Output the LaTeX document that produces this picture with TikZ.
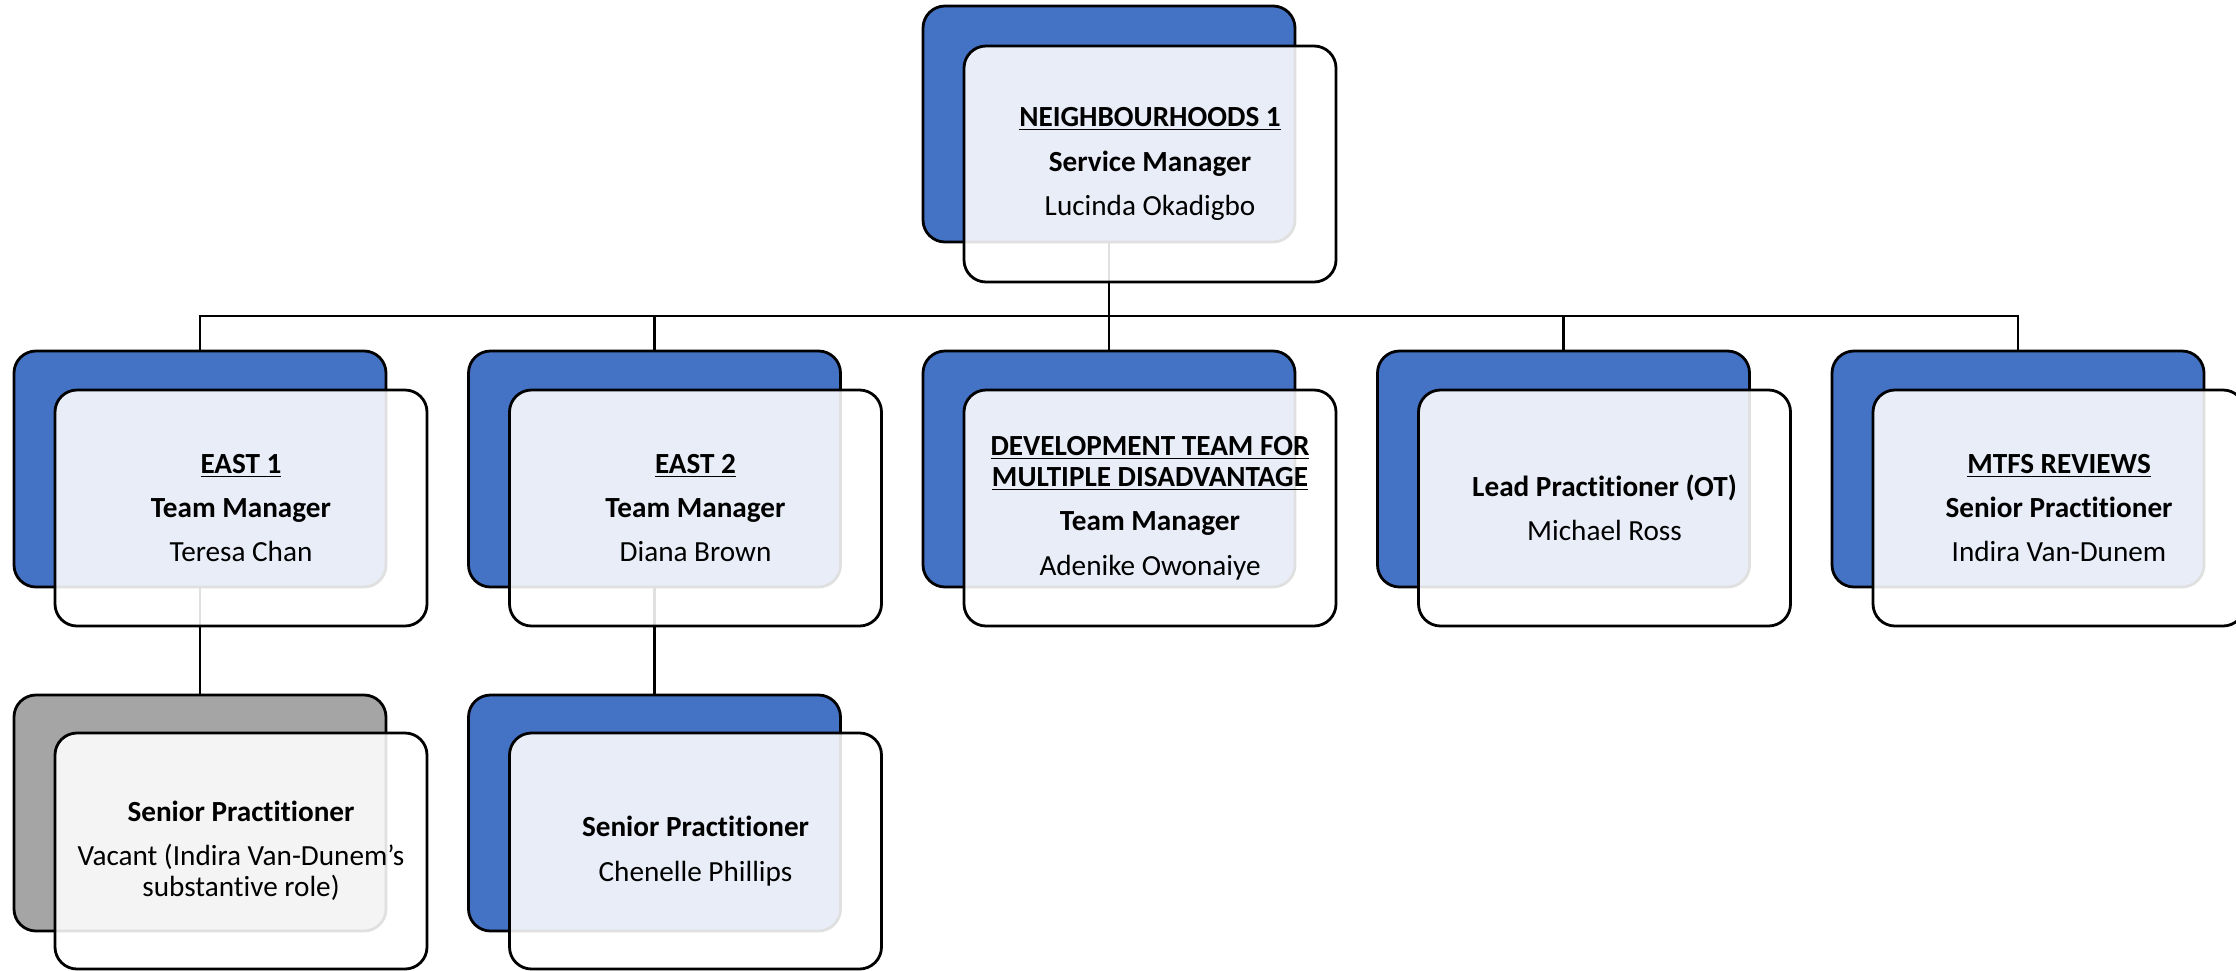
\documentclass[tikz,border=0pt]{standalone}
\usepackage{fontspec}
\setmainfont{Carlito}[Ligatures=NoCommon]
\usetikzlibrary{backgrounds}
\definecolor{offblue}{HTML}{4472C4}
\definecolor{offgrey}{HTML}{A5A5A5}
\begin{document}
\begin{tikzpicture}[x=0.5pt,y=-0.5pt,
  boxbase/.style={draw=black,line width=1.4pt,rounded corners=11pt,minimum width=186pt,minimum height=118pt,inner sep=0pt,outer sep=0pt,anchor=north west},
  back/.style={boxbase,fill=offblue},
  backgrey/.style={boxbase,fill=offgrey},
  front/.style={boxbase,fill=white,fill opacity=0.88,text opacity=1,align=center,font=\fontsize{14.6}{15.6}\selectfont},
  conn/.style={line width=1.1pt,draw=black}]
\useasboundingbox (0,0) rectangle (2236,970);
\clip (0,0) rectangle (2236,970);
% back boxes
\path (923,6) node[back] (topb) {};
\path (14,351) node[back] (e1b) {};
\path (468.5,351) node[back] (e2b) {};
\path (923,351) node[back] (devb) {};
\path (1377.5,351) node[back] (leadb) {};
\path (1832,351) node[back] (mtfsb) {};
\path (14,695) node[backgrey] (sp1b) {};
\path (468.5,695) node[back] (sp2b) {};
\coordinate (bus) at (0,316);
% connectors (under the boxes)
\begin{scope}[on background layer]
\foreach \c in {e1b,e2b,devb,leadb,mtfsb}
  \draw[conn] (topb.south) |- (bus -| \c.north) -- (\c.north);
\draw[conn] (e1b.south) -- (sp1b.north);
\draw[conn] (e2b.south) -- (sp2b.north);
\end{scope}
% front boxes with text
\path (964,46) node[front] (topf) {{\bfseries\underline{NEIGHBOURHOODS 1}}\\[6.5pt]\textbf{Service Manager}\\[6.5pt]Lucinda Okadigbo};
\path (55,390) node[front] (e1f) {{\bfseries\underline{EAST 1}}\\[6.5pt]\textbf{Team Manager}\\[6.5pt]Teresa Chan};
\path (509.5,390) node[front] (e2f) {{\bfseries\underline{EAST 2}}\\[6.5pt]\textbf{Team Manager}\\[6.5pt]Diana Brown};
\path (964,390) node[front] (devf) {{\bfseries\underline{DEVELOPMENT TEAM FOR}}\\{\bfseries\underline{MULTIPLE DISADVANTAGE}}\\[6.5pt]\textbf{Team Manager}\\[6.5pt]Adenike Owonaiye};
\path (1418.5,390) node[front] (leadf) {\textbf{Lead Practitioner (OT)}\\[6.5pt]Michael Ross};
\path (1873,390) node[front] (mtfsf) {{\bfseries\underline{MTFS REVIEWS}}\\[6.5pt]\textbf{Senior Practitioner}\\[6.5pt]Indira Van-Dunem};
\path (55,733) node[front] (sp1f) {\textbf{Senior Practitioner}\\[6.5pt]Vacant (Indira Van-Dunem’s\\substantive role)};
\path (509.5,733) node[front] (sp2f) {\textbf{Senior Practitioner}\\[6.5pt]Chenelle Phillips};
\end{tikzpicture}
\end{document}
